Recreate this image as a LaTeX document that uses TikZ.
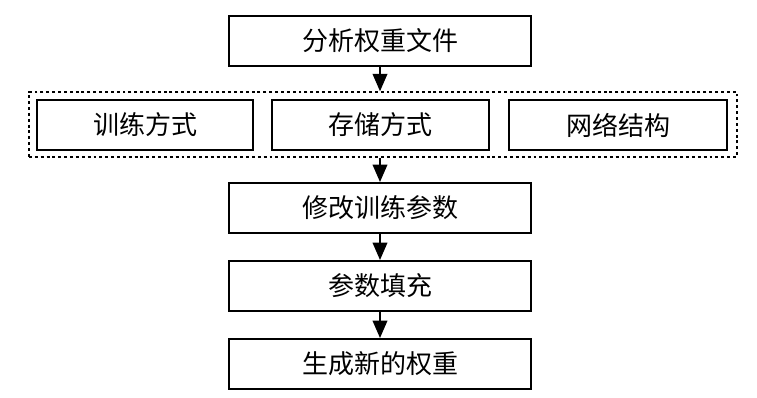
\documentclass[tikz,border=0pt]{standalone}
\usepackage{fontspec}
\setmainfont{Noto Sans CJK SC}
\usetikzlibrary{arrows.meta}

\tikzset{
  box/.style={draw, line width=1.5pt, minimum height=37.5pt, inner sep=0pt,
    font=\fontsize{19.5}{21}\selectfont},
  grp/.style={draw, line width=1.1pt, dash pattern=on 2.2pt off 2.2pt, inner sep=0pt,
    minimum width=531pt, minimum height=48.75pt},
  arr/.style={line width=1.1pt, -{Triangle[length=13pt, width=11pt]}}
}

\begin{document}
\begin{tikzpicture}[x=0.75pt, y=-0.75pt]
\useasboundingbox (0,0) rectangle (757,398);

\node[grp] (grp) at (383,124.5) {};

\node[box, minimum width=226.5pt] (parse) at (380,41) {分析权重文件};
\node[box, minimum width=162pt] (train) at (145,125) {训练方式};
\node[box, minimum width=162.75pt] (store) at (380.5,125) {存储方式};
\node[box, minimum width=163.5pt] (net) at (618,125) {网络结构};
\node[box, minimum width=226.5pt] (tune) at (380,208) {修改训练参数};
\node[box, minimum width=226.5pt] (fill) at (380,286) {参数填充};
\node[box, minimum width=226.5pt] (gen) at (380,364) {生成新的权重};

\draw[arr] (parse.south) -- (parse.south |- grp.north);
\draw[arr] (tune.north |- grp.south) -- (tune.north);
\draw[arr] (tune.south) -- (fill.north);
\draw[arr] (fill.south) -- (gen.north);
\end{tikzpicture}
\end{document}
